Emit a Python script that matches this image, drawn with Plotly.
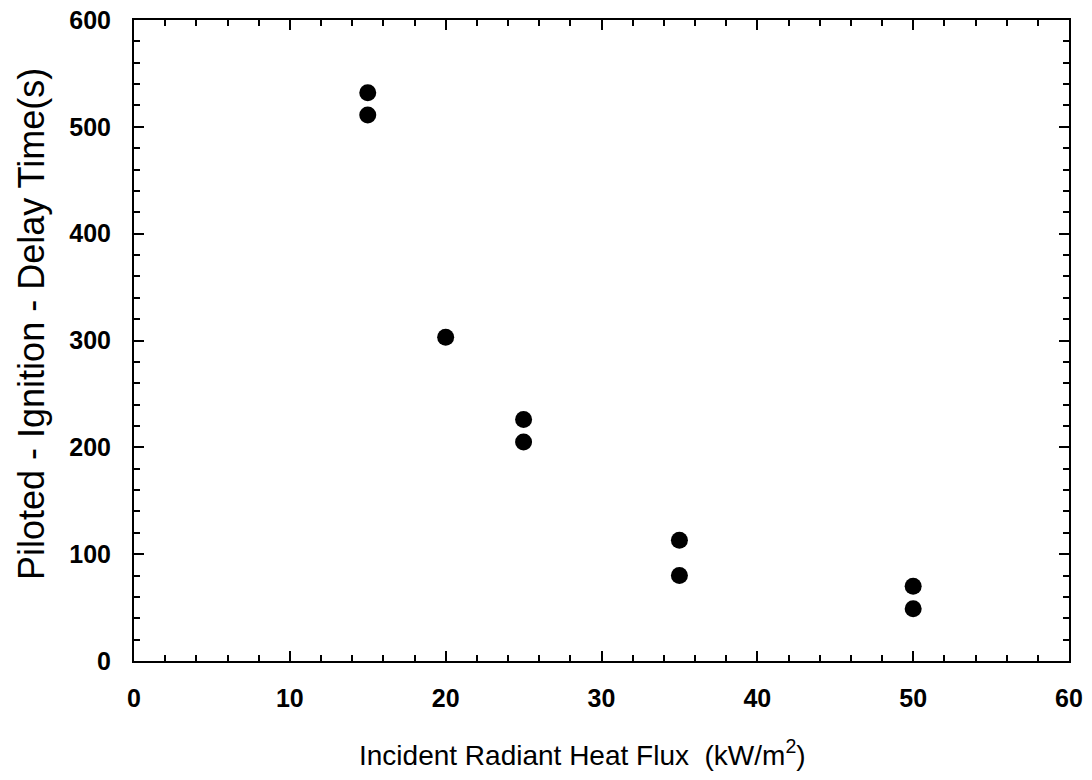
import plotly.graph_objects as go

flux = [15, 15, 20, 25, 25, 35, 35, 50, 50]
delay = [532, 511, 303, 226, 205, 113, 80, 70, 49]
x_ticks = [0, 10, 20, 30, 40, 50, 60]
y_ticks = [0, 100, 200, 300, 400, 500, 600]
x_title = "Incident Radiant Heat Flux  (kW/m<sup>2</sup>)"
y_title = "Piloted - Ignition - Delay Time(s)"

fig = go.Figure()
fig.add_trace(go.Scatter(
    x=flux, y=delay, mode="markers",
    marker=dict(size=17, color="black", line=dict(width=0)),
    showlegend=False,
))

font_ticks = dict(family="Liberation Sans, Arial, sans-serif", size=25, color="black", weight="bold")
font_xtitle = dict(family="Liberation Sans, Arial, sans-serif", size=28, color="black")
font_ytitle = dict(family="Liberation Sans, Arial, sans-serif", size=36, color="black")

fig.update_layout(
    width=1092, height=780,
    margin=dict(l=134, r=23, t=20, b=119),
    paper_bgcolor="white", plot_bgcolor="white",
    xaxis=dict(
        range=[0, 60], tickvals=x_ticks, ticktext=[str(v) for v in x_ticks],
        ticks="inside", ticklen=10, tickwidth=2, tickcolor="black",
        showline=True, linewidth=2, linecolor="black", mirror="ticks",
        showgrid=False, zeroline=False, tickfont=font_ticks, automargin=False,
        ticklabelstandoff=14,
        minor=dict(ticks="inside", dtick=2, ticklen=6, tickwidth=2, tickcolor="black", showgrid=False),
    ),
    yaxis=dict(
        range=[0, 600], tickvals=y_ticks, ticktext=[str(v) for v in y_ticks],
        ticks="inside", ticklen=10, tickwidth=2, tickcolor="black",
        showline=True, linewidth=2, linecolor="black", mirror="ticks",
        showgrid=False, zeroline=False, tickfont=font_ticks, automargin=False,
        ticklabelstandoff=16,
        minor=dict(ticks="inside", dtick=20, ticklen=6, tickwidth=2, tickcolor="black", showgrid=False),
    ),
    annotations=[
        dict(text=x_title, xref="paper", yref="paper", x=0.48, y=0,
             xanchor="center", yanchor="middle", yshift=-92, showarrow=False, font=font_xtitle),
        dict(text=y_title, xref="paper", yref="paper", x=0, y=0, textangle=-90,
             xanchor="center", yanchor="middle", xshift=-103, yshift=337, showarrow=False, font=font_ytitle),
    ],
)

fig.write_html("out.html", config={"displayModeBar": False},
               post_script="document.body.style.margin='0';")
